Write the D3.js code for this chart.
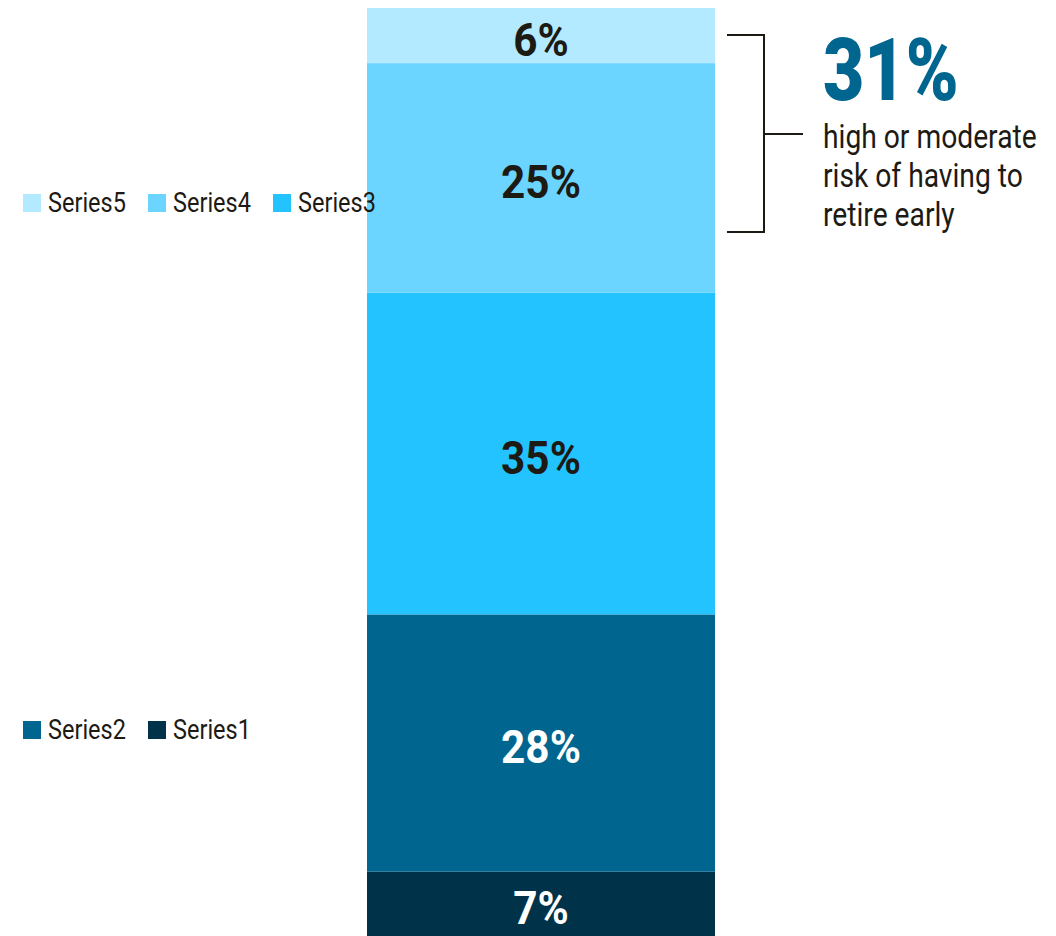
<!DOCTYPE html>
<html>
<head>
<meta charset="utf-8">
<script src="https://cdn.jsdelivr.net/npm/d3@7"></script>
<style>
  html, body { margin: 0; padding: 0; background: #ffffff; }
  svg { display: block; }
  text { font-family: Roboto, "Noto Sans", sans-serif; }
</style>
</head>
<body>
<svg id="chart" width="1056" height="936"></svg>
<script>
// Stacked shares, bottom to top
const seriesNames = ["Series1", "Series2", "Series3", "Series4", "Series5"];
const seriesValues = [7, 28, 35, 25, 6];
const seriesColors = ["#003349", "#00658f", "#22c3ff", "#6bd5ff", "#b3eaff"];
const labelColors = ["#ffffff", "#ffffff", "#1d1a14", "#1d1a14", "#1d1a14"];

// Legend rows (as laid out on the left)
const legendRowTop = ["Series5", "Series4", "Series3"];
const legendRowBottom = ["Series2", "Series1"];

// Highlighted group: the two top segments
const highlightSeries = ["Series4", "Series5"];
const highlightText = ["high or moderate", "risk of having to", "retire early"];

const svg = d3.select("#chart");
const ink = "#1d1a14";
const narrow = 0.84;

const total = d3.sum(seriesValues);
const y = d3.scaleLinear().domain([0, total]).range([936, 8]);
const x = d3.scaleBand().domain(["all"]).range([367, 715]).padding(0);

let acc = 0;
const stack = seriesNames.map((name, i) => {
  const d = { name, value: seriesValues[i], y0: acc, y1: acc + seriesValues[i],
              color: seriesColors[i], labelColor: labelColors[i] };
  acc += seriesValues[i];
  return d;
});

const bar = svg.append("g");
bar.selectAll("rect")
  .data(stack)
  .join("rect")
  .attr("x", x("all"))
  .attr("width", x.bandwidth())
  .attr("y", d => y(d.y1))
  .attr("height", d => y(d.y0) - y(d.y1))
  .attr("fill", d => d.color);

bar.selectAll("text")
  .data(stack)
  .join("text")
  .attr("transform", d => `translate(${x("all") + x.bandwidth() / 2},${(y(d.y0) + y(d.y1)) / 2 + 20}) scale(0.92,1)`)
  .attr("text-anchor", "middle")
  .attr("font-size", 46)
  .attr("font-weight", 700)
  .attr("fill", d => d.labelColor)
  .text(d => d.value + "%");

// Legend
const colorOf = d3.scaleOrdinal().domain(seriesNames).range(seriesColors);
function legendRow(names, top) {
  const g = svg.append("g");
  names.forEach((name, i) => {
    const lx = 23 + i * 125;
    g.append("rect")
      .attr("x", lx).attr("y", top)
      .attr("width", 18).attr("height", 18)
      .attr("fill", colorOf(name));
    g.append("text")
      .attr("transform", `translate(${lx + 25},${top + 18}) scale(${narrow},1)`)
      .attr("font-size", 28)
      .attr("fill", ink)
      .text(name);
  });
}
legendRow(legendRowTop, 194);
legendRow(legendRowBottom, 721);

// Bracket around the highlighted segments
const hiVals = stack.filter(d => highlightSeries.includes(d.name));
const hiSum = d3.sum(hiVals, d => d.value);
const bTop = 35, bBot = 232, bX = 764, bMid = 134;
svg.append("path")
  .attr("d", `M727,${bTop}H${bX}V${bBot}H727M${bX},${bMid}H803`)
  .attr("fill", "none")
  .attr("stroke", ink)
  .attr("stroke-width", 2);

svg.append("text")
  .attr("transform", `translate(823,100) scale(0.82,1)`)
  .attr("font-size", 87)
  .attr("font-weight", 900)
  .attr("fill", "#00658f")
  .text(hiSum + "%");

svg.append("g").selectAll("text")
  .data(highlightText)
  .join("text")
  .attr("transform", (d, i) => `translate(823,${148 + i * 39}) scale(0.83,1)`)
  .attr("font-size", 34)
  .attr("fill", ink)
  .text(d => d);
</script>
</body>
</html>
